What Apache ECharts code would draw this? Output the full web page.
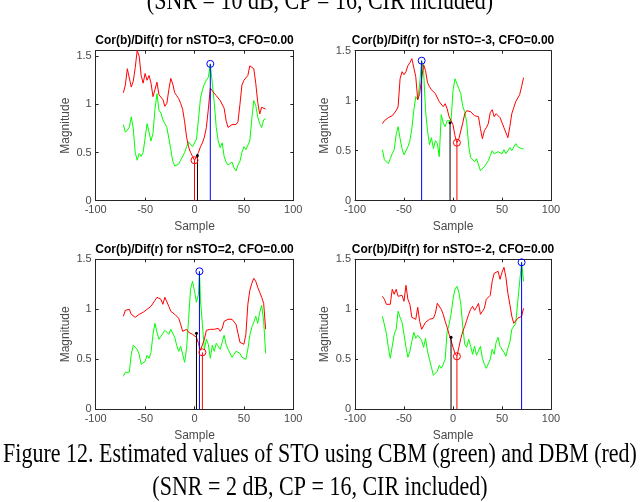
<!DOCTYPE html>
<html>
<head>
<meta charset="UTF-8">
<title>STO estimation CBM / DBM</title>
<script src="https://cdn.jsdelivr.net/npm/echarts@6/dist/echarts.min.js"></script>
<style>
  html, body { margin: 0; padding: 0; background: #fff; }
  #chart { width: 640px; height: 502px; }
</style>
</head>
<body>
<div id="chart"></div>
<script>
// sample offsets (x axis), shared by the four panels
const samples = [-72,-70,-68,-66,-64,-62,-60,-58,-56,-54,-52,-50,-48,-46,-44,-42,-40,-38,-36,-34,
  -32,-30,-28,-26,-24,-22,-20,-18,-16,-14,-12,-10,-8,-6,-4,-2,0,2,4,6,8,10,12,14,16,18,20,22,24,26,
  28,30,32,34,36,38,40,42,44,46,48,50,52,54,56,58,60,62,64,66,68,70,72];

// top left, nSTO=3
const tlGreen = [0.79,0.71,0.70,0.76,0.87,0.75,0.50,0.42,0.49,0.46,
  0.50,0.65,0.80,0.79,0.62,0.70,0.95,1.11,0.94,0.91,
  0.84,0.80,0.76,0.65,0.53,0.41,0.36,0.35,0.38,0.42,
  0.44,0.50,0.56,0.61,0.59,0.56,0.55,0.64,0.84,1.06,
  1.15,1.21,1.25,1.28,1.42,1.22,1.02,0.76,0.62,0.55,
  0.60,0.46,0.40,0.37,0.38,0.40,0.34,0.31,0.37,0.41,
  0.50,0.56,0.53,0.55,0.62,0.85,1.04,0.99,0.87,0.80,
  0.76,0.84,0.85];
const tlRed = [1.12,1.20,1.37,1.35,1.18,1.24,1.38,1.56,1.50,1.30,
  1.22,1.32,1.25,1.30,1.22,1.08,1.10,1.23,1.10,1.08,
  1.05,0.98,1.01,1.15,1.27,1.21,1.12,1.09,1.06,1.01,
  0.95,0.82,0.66,0.56,0.50,0.46,0.44,0.46,0.50,0.56,
  0.60,0.66,0.76,0.95,1.17,1.14,1.16,1.09,1.09,1.04,
  1.05,0.96,0.83,0.76,0.77,0.79,0.77,0.79,0.82,1.00,
  1.20,1.25,1.27,1.30,1.40,1.40,1.37,1.22,1.02,0.90,
  0.97,0.95,0.95];

// top right, nSTO=-3
const trGreen = [0.51,0.41,0.42,0.37,0.42,0.47,0.51,0.66,0.74,0.62,
  0.52,0.46,0.47,0.54,0.60,0.72,0.90,1.04,1.01,1.17,
  1.40,1.30,0.90,0.70,0.56,0.63,0.52,0.60,0.57,0.44,
  0.86,0.78,0.74,0.80,0.79,0.80,1.10,1.22,1.20,1.12,
  1.07,0.94,0.89,0.78,0.55,0.43,0.44,0.39,0.42,0.40,
  0.30,0.32,0.34,0.36,0.40,0.45,0.50,0.47,0.48,0.49,
  0.49,0.47,0.51,0.47,0.46,0.53,0.50,0.51,0.57,0.54,
  0.56,0.52,0.52];
const trRed = [0.77,0.80,0.82,0.83,0.84,0.85,0.87,0.90,0.94,1.22,
  1.29,1.26,1.29,1.35,1.38,1.42,1.41,1.24,1.01,1.07,
  1.22,1.36,1.30,1.18,1.14,1.11,1.12,1.07,1.05,0.99,
  0.99,0.94,0.97,0.92,0.84,0.80,0.76,0.65,0.60,0.62,
  0.62,0.78,0.87,0.90,0.89,0.89,0.89,0.85,0.85,0.84,
  0.72,0.62,0.70,0.73,0.77,0.88,0.91,0.84,0.87,0.88,
  0.83,0.78,0.73,0.71,0.63,0.74,0.87,0.93,0.99,1.00,
  1.06,1.14,1.23];

// bottom left, nSTO=2
const blGreen = [0.33,0.37,0.35,0.37,0.55,0.64,0.65,0.60,0.55,0.45,
  0.47,0.48,0.54,0.51,0.57,0.75,0.86,0.77,0.70,0.73,
  0.72,0.79,0.81,0.75,0.80,0.82,0.72,0.64,0.58,0.63,
  0.55,0.47,0.61,0.90,1.20,1.28,1.18,1.07,1.15,1.10,
  0.85,0.60,0.70,0.65,0.51,0.64,0.58,0.66,0.66,0.60,
  0.62,0.74,0.65,0.60,0.62,0.52,0.55,0.58,0.58,0.56,
  0.52,0.50,0.50,0.60,0.74,0.82,0.87,0.93,0.86,0.97,
  1.04,0.88,0.56];
const blRed = [0.93,0.99,1.00,1.00,0.95,0.93,0.92,0.90,0.95,0.94,
  0.97,0.96,1.00,0.98,1.03,1.05,1.09,1.12,1.10,1.10,
  1.05,1.12,1.14,1.03,0.98,0.96,0.95,0.93,0.91,0.85,
  0.78,0.76,0.80,0.77,0.76,0.75,0.74,0.72,0.66,0.59,
  0.58,0.70,0.79,0.78,0.80,0.81,0.80,0.82,0.81,0.78,
  0.81,0.88,0.90,0.90,0.90,0.90,0.88,0.85,0.76,0.67,
  0.65,0.65,0.75,1.05,1.19,1.26,1.31,1.28,1.22,1.17,
  1.12,1.06,0.80];

// bottom right, nSTO=-2
const brGreen = [0.93,0.93,0.76,0.62,0.51,0.63,0.75,0.80,0.98,0.92,
  0.87,0.75,0.62,0.52,0.58,0.68,0.77,0.71,0.74,0.72,
  0.69,0.62,0.71,0.58,0.50,0.42,0.34,0.34,0.38,0.44,
  0.41,0.45,0.50,0.78,0.85,0.95,1.10,1.20,1.23,1.17,
  1.05,0.82,0.65,0.62,0.70,0.63,0.55,0.63,0.54,0.56,
  0.63,0.51,0.45,0.41,0.43,0.50,0.60,0.55,0.67,0.72,
  0.63,0.61,0.57,0.53,0.61,0.67,0.80,0.78,0.86,1.07,
  1.05,1.47,1.28];
const brRed = [1.13,1.10,1.05,1.06,1.05,1.20,1.15,1.20,1.13,1.15,
  1.14,1.08,1.24,1.10,1.05,0.92,0.93,0.90,1.02,0.88,
  0.80,0.80,0.87,0.86,0.90,0.89,0.91,0.96,1.06,1.06,
  1.00,0.95,0.88,0.82,0.75,0.69,0.62,0.56,0.55,0.62,
  0.71,0.78,0.83,0.89,0.95,1.00,1.03,0.99,1.02,1.06,
  0.95,0.98,1.01,1.10,1.10,1.14,1.28,1.36,1.35,1.38,
  1.30,1.37,1.42,1.32,1.16,1.05,0.93,0.86,0.86,0.91,
  0.90,0.93,1.01];

const nSTO = [3, -3, 2, -2];
const yMax = [1.557, 1.5, 1.5, 1.5];

// stems: CBM estimate (blue), true offset (black), DBM estimate (red)
const blueStemX = [16, -32, 5, 70];
const blueStemY = [1.42, 1.40, 1.38, 1.47];
const blackStemX = [3, -3, 2, -2];
const blackStemY = [0.47, 0.78, 0.76, 0.72];
const redStemX = [0, 4, 8, 4];
const redStemY = [0.42, 0.58, 0.57, 0.53];

const greens = [tlGreen, trGreen, blGreen, brGreen];
const reds = [tlRed, trRed, blRed, brRed];

const boxes = [
  {left: 95.7, top: 50.7, width: 197.6, height: 150},
  {left: 355, top: 50.7, width: 196, height: 150},
  {left: 95.7, top: 259.3, width: 197.6, height: 150},
  {left: 355, top: 259.3, width: 196, height: 150}
];

const axisColor = '#262626';
const labelColor = '#4a4a4a';
const sans = '"Liberation Sans", Arial, sans-serif';
const serif = '"Liberation Serif", "Times New Roman", serif';

// curve with the stem point put in, so the circle sits on it
function withPoint(xs, ys, px, py) {
  const pts = xs.map((x, i) => [x, ys[i]]).filter(p => p[0] !== px);
  pts.push([px, py]);
  pts.sort((a, b) => a[0] - b[0]);
  return pts;
}

function stem(x, y, color, sym, size, xi, yi) {
  return {
    type: 'line', xAxisIndex: xi, yAxisIndex: yi, z: 5,
    showSymbol: true, silent: true,
    lineStyle: {color: color, width: 1},
    itemStyle: sym === 'circle' ? {color: 'rgba(0,0,0,0)', borderColor: color, borderWidth: 1}
                                : {color: color},
    data: [
      {value: [x, 0], symbol: 'none'},
      {value: [x, y], symbol: 'circle', symbolSize: size}
    ]
  };
}

let grid = [], xAxis = [], yAxis = [], series = [], graphic = [];

boxes.forEach((b, i) => {
  grid.push({left: b.left, top: b.top, width: b.width, height: b.height, show: false});

  const line = {show: true, onZero: false, lineStyle: {color: axisColor, width: 1}};
  const tick = {show: true, inside: true, length: 3, lineStyle: {color: axisColor, width: 1}};

  xAxis.push({
    gridIndex: i, type: 'value', position: 'bottom', min: -100, max: 100, interval: 50,
    name: 'Sample', nameLocation: 'middle', nameGap: 20,
    nameTextStyle: {color: labelColor, fontSize: 12, fontFamily: sans},
    axisLine: line, axisTick: tick, splitLine: {show: false},
    axisLabel: {margin: 4, color: labelColor, fontSize: 11, fontFamily: sans}
  });
  xAxis.push({
    gridIndex: i, type: 'value', position: 'top', min: -100, max: 100, interval: 50,
    axisLine: line, axisTick: tick, splitLine: {show: false}, axisLabel: {show: false}
  });
  yAxis.push({
    gridIndex: i, type: 'value', position: 'left', min: 0, max: yMax[i], interval: 0.5,
    name: 'Magnitude', nameLocation: 'middle', nameGap: 24,
    nameTextStyle: {color: labelColor, fontSize: 12, fontFamily: sans},
    axisLine: line, axisTick: tick, splitLine: {show: false},
    axisLabel: {margin: 4, color: labelColor, fontSize: 11, fontFamily: sans,
                showMaxLabel: yMax[i] % 0.5 === 0}
  });
  yAxis.push({
    gridIndex: i, type: 'value', position: 'right', min: 0, max: yMax[i], interval: 0.5,
    axisLine: line, axisTick: tick, splitLine: {show: false}, axisLabel: {show: false}
  });

  const xi = 2 * i, yi = 2 * i;
  series.push({
    type: 'line', xAxisIndex: xi, yAxisIndex: yi, showSymbol: false, symbol: 'none',
    lineStyle: {color: '#00ff00', width: 1},
    data: withPoint(samples, greens[i], blueStemX[i], blueStemY[i])
  });
  series.push({
    type: 'line', xAxisIndex: xi, yAxisIndex: yi, showSymbol: false, symbol: 'none',
    lineStyle: {color: '#ff0000', width: 1},
    data: withPoint(samples, reds[i], redStemX[i], redStemY[i])
  });
  series.push(stem(blackStemX[i], blackStemY[i], '#000000', 'dot', 3, xi, yi));
  series.push(stem(redStemX[i], redStemY[i], '#ff0000', 'circle', 7, xi, yi));
  series.push(stem(blueStemX[i], blueStemY[i], '#0000ff', 'circle', 7, xi, yi));

  graphic.push({
    type: 'text', x: b.left + b.width / 2, y: b.top - 10,
    style: {text: 'Cor(b)/Dif(r) for nSTO=' + nSTO[i] + ', CFO=0.00',
            font: 'bold 12px ' + sans, fill: '#000', align: 'center', verticalAlign: 'middle'}
  });
});

// figure captions (the one on top belongs to the previous figure and is cut)
const captions = [
  {text: '(SNR = 10 dB, CP = 16, CIR included)', y: 2},
  {text: 'Figure 12. Estimated values of STO using CBM (green) and DBM (red)', y: 455},
  {text: '(SNR = 2 dB, CP = 16, CIR included)', y: 488}
];
captions.forEach(c => {
  graphic.push({
    type: 'text', x: 320, y: c.y, scaleY: 1.2,
    style: {text: c.text, font: '22px ' + serif, fill: '#000', align: 'center', verticalAlign: 'middle'}
  });
});

const myChart = echarts.init(document.getElementById('chart'), null, {renderer: 'canvas'});
myChart.setOption({
  animation: false,
  backgroundColor: '#ffffff',
  grid: grid,
  xAxis: xAxis,
  yAxis: yAxis,
  series: series,
  graphic: graphic
});
</script>
</body>
</html>
